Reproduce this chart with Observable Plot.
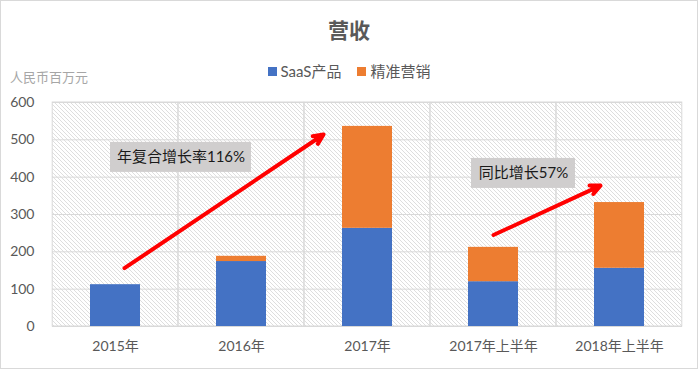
<!DOCTYPE html>
<html><head><meta charset="utf-8">
<script src="https://cdn.jsdelivr.net/npm/d3@7"></script>
<script src="https://cdn.jsdelivr.net/npm/@observablehq/plot@0.6"></script>
<style>
html,body{margin:0;padding:0;background:#fff;}
#chart{position:relative;width:698px;height:369px;box-sizing:border-box;border:1px solid #d9d9d9;font-family:Lato,"Noto Sans CJK SC",sans-serif;color:#595959;overflow:hidden;background:#fff;}
#header{position:relative;height:88px;}
#title{position:absolute;left:0;right:0;top:16px;text-align:center;font-size:21px;font-weight:bold;line-height:26px;}
#legend{position:absolute;left:0;right:0;top:61px;display:flex;justify-content:center;align-items:center;font-size:15px;line-height:18px;}
.sw{display:inline-block;width:9px;height:9px;margin-right:4px;}
.item{display:flex;align-items:center;margin:0 8px;}
#unit{position:absolute;left:9px;top:68px;font-size:13px;line-height:16px;color:#a6a6a6;}
svg{display:block}
</style></head><body>
<div id="chart"><div id="header"><div id="title"></div><div id="legend"></div><div id="unit"></div></div></div>
<script>
const title = "营收";
const unitLabel = "人民币百万元";
const categories = ["2015年", "2016年", "2017年", "2017年上半年", "2018年上半年"];
const seriesNames = ["SaaS产品", "精准营销"];
const saasValues = [112, 174, 263, 120, 156];
const marketingValues = [0, 14, 273, 92, 176];
const yTicks = [0, 100, 200, 300, 400, 500, 600];
const seriesColors = ["#4472c4", "#ed7d31"];

// annotation labels (anchored in data space)
const annotationLabels = ["年复合增长率116%", "同比增长57%"];
const annotationX = ["2016年", "2017年上半年"];
const annotationY = [453, 410];
// arrows (data space)
const arrowFrom = [["2015年", 140], ["2017年上半年", 245]];
const arrowTo = [["2017年", 593.5], ["2018年上半年", 401]];

// layout
const W = 696, H = 279, mL = 51, mR = 15, mT = 13, mB = 42;
const padInner = 0.6;
const step = (W - mL - mR) / categories.length;
const gridInset = -(step * padInner) / 2;

document.getElementById("title").textContent = title;
document.getElementById("unit").textContent = unitLabel;
const legend = d3.select("#legend");
seriesNames.forEach((s, i) => {
  const it = legend.append("div").attr("class", "item");
  it.append("span").attr("class", "sw").style("background", seriesColors[i]);
  it.append("span").text(s);
});

const rows = [];
categories.forEach((c, i) => {
  rows.push({category: c, series: seriesNames[0], value: saasValues[i]});
  rows.push({category: c, series: seriesNames[1], value: marketingValues[i]});
});

const annotations = annotationLabels.map((label, i) => ({label, x: annotationX[i], y: annotationY[i]}));
const boxW = [141, 104], boxH = 30, boxDx = [-60.5, 30];

function annotationBoxes(index, scales) {
  const g = d3.create("svg:g");
  annotations.forEach((a, i) => {
    const bw = scales.x.bandwidth ? scales.x.bandwidth() / 2 : 0;
    const cx = scales.x(a.x) + bw + boxDx[i];
    const cy = scales.y(a.y);
    g.append("rect").attr("x", cx - boxW[i] / 2).attr("y", cy - boxH / 2)
      .attr("width", boxW[i]).attr("height", boxH).attr("fill", "#d0cece");
  });
  return g.node();
}

const arrowOpts = {stroke: "#ff0000", fill: "#ff0000", strokeWidth: 4, headLength: 4.1, headAngle: 50, strokeLinejoin: "miter"};

const svg = Plot.plot({
  width: W, height: H,
  marginLeft: mL, marginRight: mR, marginTop: mT, marginBottom: mB,
  style: {background: "transparent", color: "#595959", fontSize: "14px", fontFamily: "Lato, 'Noto Sans CJK SC', sans-serif", overflow: "visible"},
  x: {domain: categories, paddingInner: padInner, paddingOuter: padInner / 2, tickSize: 0, tickPadding: 15, label: null},
  y: {domain: [0, 600], ticks: yTicks, tickSize: 0, tickPadding: 18, label: null},
  color: {domain: seriesNames, range: seriesColors},
  marks: [
    Plot.barY(categories, {x: d => d, y1: 0, y2: 600, fill: "url(#hatch)", stroke: "#d9d9d9", insetLeft: gridInset, insetRight: gridInset}),
    Plot.ruleY(yTicks, {stroke: "#d9d9d9"}),
    Plot.barY(rows, {x: "category", y: "value", fill: "series"}),
    annotationBoxes,
    ...annotations.map((a, i) => Plot.text([a], {x: "x", y: "y", text: "label", dx: boxDx[i], fill: "#1a1a1a", fontSize: 15})),
    Plot.arrow([0], {x1: () => arrowFrom[0][0], y1: () => arrowFrom[0][1], x2: () => arrowTo[0][0], y2: () => arrowTo[0][1], insetStart: 10.8, insetEnd: 53, ...arrowOpts}),
    Plot.arrow([0], {x1: () => arrowFrom[1][0], y1: () => arrowFrom[1][1], x2: () => arrowTo[1][0], y2: () => arrowTo[1][1], insetStart: 0, insetEnd: 21, ...arrowOpts})
  ]
});

const defs = d3.select(svg).insert("defs", ":first-child");
const pat = defs.append("pattern").attr("id", "hatch").attr("patternUnits", "userSpaceOnUse").attr("width", 4).attr("height", 4);
pat.append("rect").attr("width", 4).attr("height", 4).attr("fill", "#fff");
pat.append("path").attr("d", "M0,0L4,4M-1,3L1,5M3,-1L5,1").attr("stroke", "#d6d6d6").attr("stroke-width", 0.8);

document.getElementById("chart").appendChild(svg);
</script>
</body></html>
